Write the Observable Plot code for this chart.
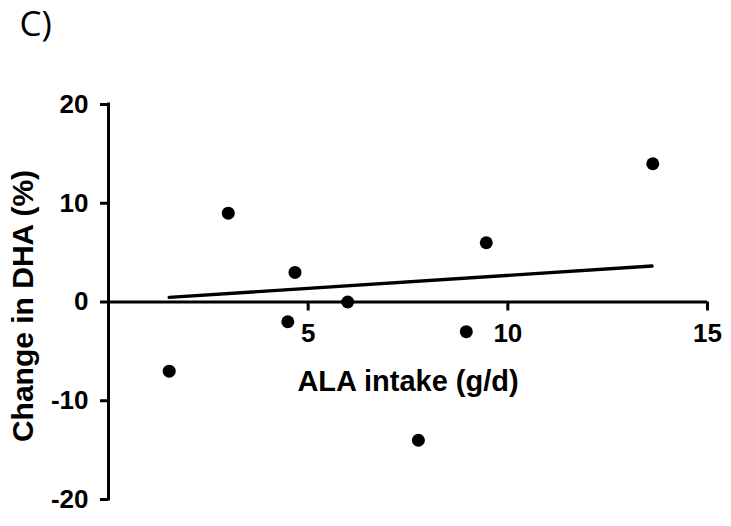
<!DOCTYPE html>
<html>
<head>
<meta charset="utf-8">
<script src="https://cdn.jsdelivr.net/npm/d3@7"></script>
<script src="https://cdn.jsdelivr.net/npm/@observablehq/plot@0.6"></script>
<style>
  html, body { margin: 0; padding: 0; background: #fff; }
</style>
</head>
<body>
<div id="chart"></div>
<script>
// Data
const alaIntake = [1.52, 3.0, 4.49, 4.67, 5.99, 7.76, 8.96, 9.46, 13.63];
const dhaChange = [-7, 9, -2, 3, 0, -14, -3, 6, 14];
// Fitted line as drawn in the reference (endpoints)
const fitX = [1.52, 13.61];
const fitY = [0.47, 3.64];
const xTicks = [5, 10, 15];
const yTicks = [-20, -10, 0, 10, 20];
const xLabel = "ALA intake (g/d)";
const yLabel = "Change in DHA (%)";
const panelLabel = "C)";

const points = alaIntake.map((x, i) => ({x, y: dhaChange[i]}));
const fit = fitX.map((x, i) => ({x, y: fitY[i]}));

const W = 731, H = 526;
const mT = 104, mB = 27, mL = 108, mR = 24;
const innerH = H - mT - mB;
const font = "'Liberation Sans', Arial, Helvetica, sans-serif";

const chart = Plot.plot({
  width: W,
  height: H,
  marginTop: mT,
  marginBottom: mB,
  marginLeft: mL,
  marginRight: mR,
  style: {fontFamily: font, background: "white", color: "black", overflow: "visible"},
  x: {domain: [0, 15], axis: null},
  y: {domain: [-20, 20], axis: null},
  marks: [
    // panel letter
    Plot.text([panelLabel], {frameAnchor: "top-left", textAnchor: "start", dx: -89, dy: -93, text: d => d, fontSize: 35, fontFamily: "'Open Sans', sans-serif", fill: "black"}),
    // y axis line and ticks
    Plot.ruleX([0], {y1: -20, y2: 20, stroke: "black", strokeWidth: 3, strokeLinecap: "square"}),
    Plot.axisY({ticks: yTicks, tickSize: 8, strokeWidth: 3, anchor: "left", label: null, text: null}),
    Plot.text(yTicks, {x: 0, y: d => d, dx: -20, textAnchor: "end", text: d => d < 0 ? "-" + Math.abs(d) : String(d), fontSize: 26, fontWeight: "bold", fontFamily: font, fill: "black"}),
    // x axis at y = 0
    Plot.ruleY([0], {x1: 0, x2: 15, stroke: "black", strokeWidth: 3}),
    Plot.axisX({ticks: xTicks, tickSize: 9, strokeWidth: 3, anchor: "bottom", label: null, text: null, dy: -innerH / 2}),
    Plot.text(xTicks, {x: d => d, y: 0, dy: 32, text: d => String(d), fontSize: 26, fontWeight: "bold", fontFamily: font, fill: "black"}),
    // fit line
    Plot.line(fit, {x: "x", y: "y", stroke: "black", strokeWidth: 3.4}),
    // points
    Plot.dot(points, {x: "x", y: "y", r: 6.5, fill: "black", stroke: "none"}),
    // axis labels
    Plot.text([xLabel], {frameAnchor: "middle", dy: 80, text: d => d, fontSize: 29, fontWeight: "bold", fontFamily: font, fill: "black"}),
    Plot.text([yLabel], {frameAnchor: "left", textAnchor: "middle", dx: -85, dy: 4, rotate: -90, text: d => d, fontSize: 30, fontWeight: "bold", fontFamily: font, fill: "black"})
  ]
});
document.getElementById("chart").appendChild(chart);
</script>
</body>
</html>
